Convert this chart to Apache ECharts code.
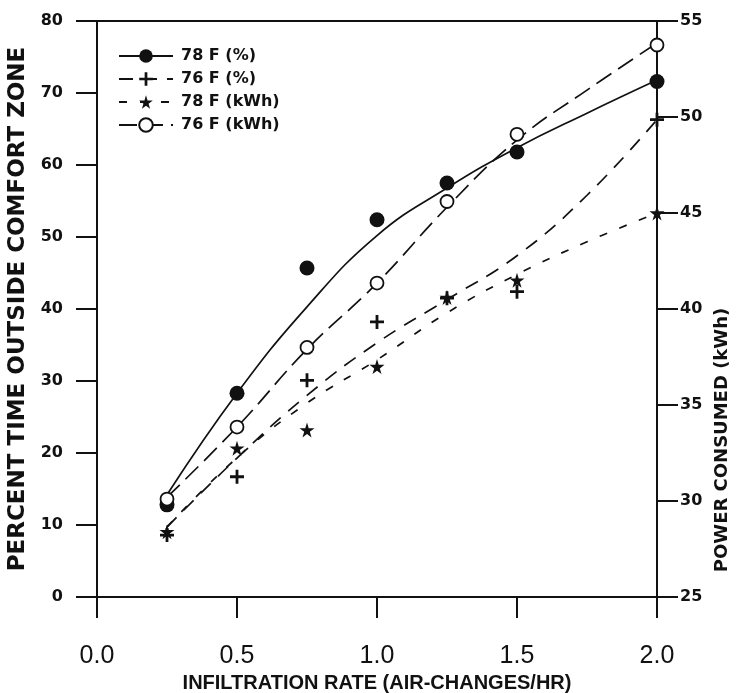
<!DOCTYPE html>
<html>
<head>
<meta charset="utf-8">
<script src="https://cdn.jsdelivr.net/npm/echarts@6/dist/echarts.min.js"></script>
<style>
  html, body { margin: 0; padding: 0; background: #fff; }
  #chart { width: 747px; height: 693px; }
</style>
</head>
<body>
<div id="chart"></div>
<script>
// Measured points (infiltration rate in air-changes/hr)
const rates = [0.25, 0.5, 0.75, 1.0, 1.25, 1.5, 2.0];
const pct78 = [12.8, 28.3, 45.7, 52.4, 57.5, 61.8, 71.6];   // 78 F, % time outside comfort zone
const pct76 = [8.6, 16.7, 30.1, 38.2, 41.5, 42.4, 66.3];    // 76 F, % time outside comfort zone
const kwh78 = [28.4, 32.75, 33.7, 37.0, 40.6, 41.5, 45.0];  // 78 F, power consumed (kWh)
const kwh76 = [30.1, 33.85, 38.0, 41.35, 45.6, 49.1, 53.75]; // 76 F, power consumed (kWh)

// Fitted trend curves
const fitRates = [0.25, 0.5, 0.75, 1.0, 1.25, 1.5, 1.75, 2.0];
const fitPct78 = [14.2, 28.3, 40.3, 50.2, 56.8, 62.4, 67.2, 71.8];
const fitPct76 = [9.7, 19.3, 28.0, 35.3, 41.3, 47.4, 55.8, 66.3];
const fitKwh78 = [28.65, 32.25, 35.1, 37.35, 39.8, 41.8, 43.5, 45.0];
const fitKwh76 = [30.2, 33.85, 37.9, 41.35, 45.3, 48.8, 51.4, 53.85];

// Tick labels
const xTicks = ['0.0', '0.5', '1.0', '1.5', '2.0'];
const pctTicks = ['0', '10', '20', '30', '40', '50', '60', '70', '80'];
const kwhTicks = ['25', '30', '35', '40', '45', '50', '55'];

const seriesNames = ['78 F (%)', '76 F (%)', '78 F (kWh)', '76 F (kWh)'];

const INK = '#111';
const PLUS = 'path://M4,0h2v4h4v2h-4v4h-2v-4h-4v-2h4z';
const STAR = 'path://M50,0L61,35L98,35L68,57L79,91L50,70L21,91L32,57L2,35L39,35Z';

const pair = (xs, ys) => xs.map((x, i) => [x, ys[i]]);

function curve(name, xs, ys, yIdx, dash, symbol) {
  return {
    name, type: 'line', yAxisIndex: yIdx, data: pair(xs, ys),
    smooth: 0.45, showSymbol: false, symbol, symbolSize: 13, clip: false,
    lineStyle: { color: INK, width: 1.7, type: dash },
    itemStyle: { color: INK },
    silent: true, z: 2
  };
}
function points(name, xs, ys, yIdx, symbol, size, hollow) {
  return {
    name, type: 'scatter', yAxisIndex: yIdx, data: pair(xs, ys),
    symbol, symbolSize: size, clip: false,
    itemStyle: hollow
      ? { color: '#fff', borderColor: INK, borderWidth: 1.8, opacity: 1 }
      : { color: INK, opacity: 1 },
    silent: true, z: 3
  };
}

const chart = echarts.init(document.getElementById('chart'), null, { renderer: 'canvas' });

chart.setOption({
  backgroundColor: '#fff',
  animation: false,
  grid: {
    left: 97, right: 90, top: 21, bottom: 96,
    outerBoundsMode: 'none', containLabel: false,
    show: true, borderColor: INK, borderWidth: 2, backgroundColor: 'transparent'
  },
  legend: {
    data: seriesNames,
    orient: 'vertical', left: 113, top: 43,
    itemWidth: 54, itemHeight: 17, itemGap: 7,
    selectedMode: false,
    textStyle: {
      fontFamily: 'DejaVu Sans', fontWeight: 'bold', fontSize: 16, color: INK,
      padding: [0, 0, 0, 3]
    }
  },
  xAxis: {
    type: 'value', min: 0, max: 2, interval: 0.5,
    name: 'INFILTRATION RATE (AIR-CHANGES/HR)',
    nameLocation: 'middle', nameGap: 70,
    nameTextStyle: { fontFamily: 'Liberation Sans', fontWeight: 'bold', fontSize: 20, color: INK },
    axisLine: { lineStyle: { color: INK, width: 2 } },
    axisTick: { length: 21, lineStyle: { color: INK, width: 2 } },
    axisLabel: {
      margin: 47, fontFamily: 'Liberation Sans', fontSize: 25, color: INK,
      formatter: v => xTicks[Math.round(v / 0.5)]
    },
    splitLine: { show: false }
  },
  yAxis: [
    {
      type: 'value', min: 0, max: 80, interval: 10, position: 'left',
      name: 'PERCENT TIME OUTSIDE COMFORT ZONE',
      nameLocation: 'middle', nameGap: 62,
      nameTextStyle: { fontFamily: 'DejaVu Sans', fontWeight: 'bold', fontSize: 23, color: INK },
      axisLine: { show: true, lineStyle: { color: INK, width: 2 } },
      axisTick: { show: true, length: 21, lineStyle: { color: INK, width: 2 } },
      axisLabel: {
        margin: 34, fontFamily: 'DejaVu Sans', fontWeight: 'bold', fontSize: 16, color: INK,
        formatter: v => pctTicks[Math.round(v / 10)]
      },
      splitLine: { show: false }
    },
    {
      type: 'value', min: 25, max: 55, interval: 5, position: 'right',
      axisLine: { show: true, lineStyle: { color: INK, width: 2 } },
      axisTick: { show: true, length: 21, lineStyle: { color: INK, width: 2 } },
      axisLabel: {
        margin: 23, fontFamily: 'DejaVu Sans', fontWeight: 'bold', fontSize: 16, color: INK,
        formatter: v => kwhTicks[Math.round((v - 25) / 5)]
      },
      splitLine: { show: false }
    }
  ],
  graphic: [{
    type: 'text', x: 722, y: 440, rotation: Math.PI / 2,
    style: {
      text: 'POWER CONSUMED (kWh)', fill: INK,
      font: 'bold 18px "DejaVu Sans"', textAlign: 'center', textVerticalAlign: 'middle'
    }
  }],
  series: [
    curve(seriesNames[0], fitRates, fitPct78, 0, 'solid', 'circle'),
    curve(seriesNames[1], fitRates, fitPct76, 0, [14, 10], PLUS),
    curve(seriesNames[2], fitRates, fitKwh78, 1, [8, 13], STAR),
    curve(seriesNames[3], fitRates, fitKwh76, 1, [18, 8], 'emptyCircle'),
    points(seriesNames[0], rates, pct78, 0, 'circle', 15, false),
    points(seriesNames[1], rates, pct76, 0, PLUS, 14, false),
    points(seriesNames[2], rates, kwh78, 1, STAR, 15, false),
    points(seriesNames[3], rates, kwh76, 1, 'circle', 13, true)
  ]
});
</script>
</body>
</html>
